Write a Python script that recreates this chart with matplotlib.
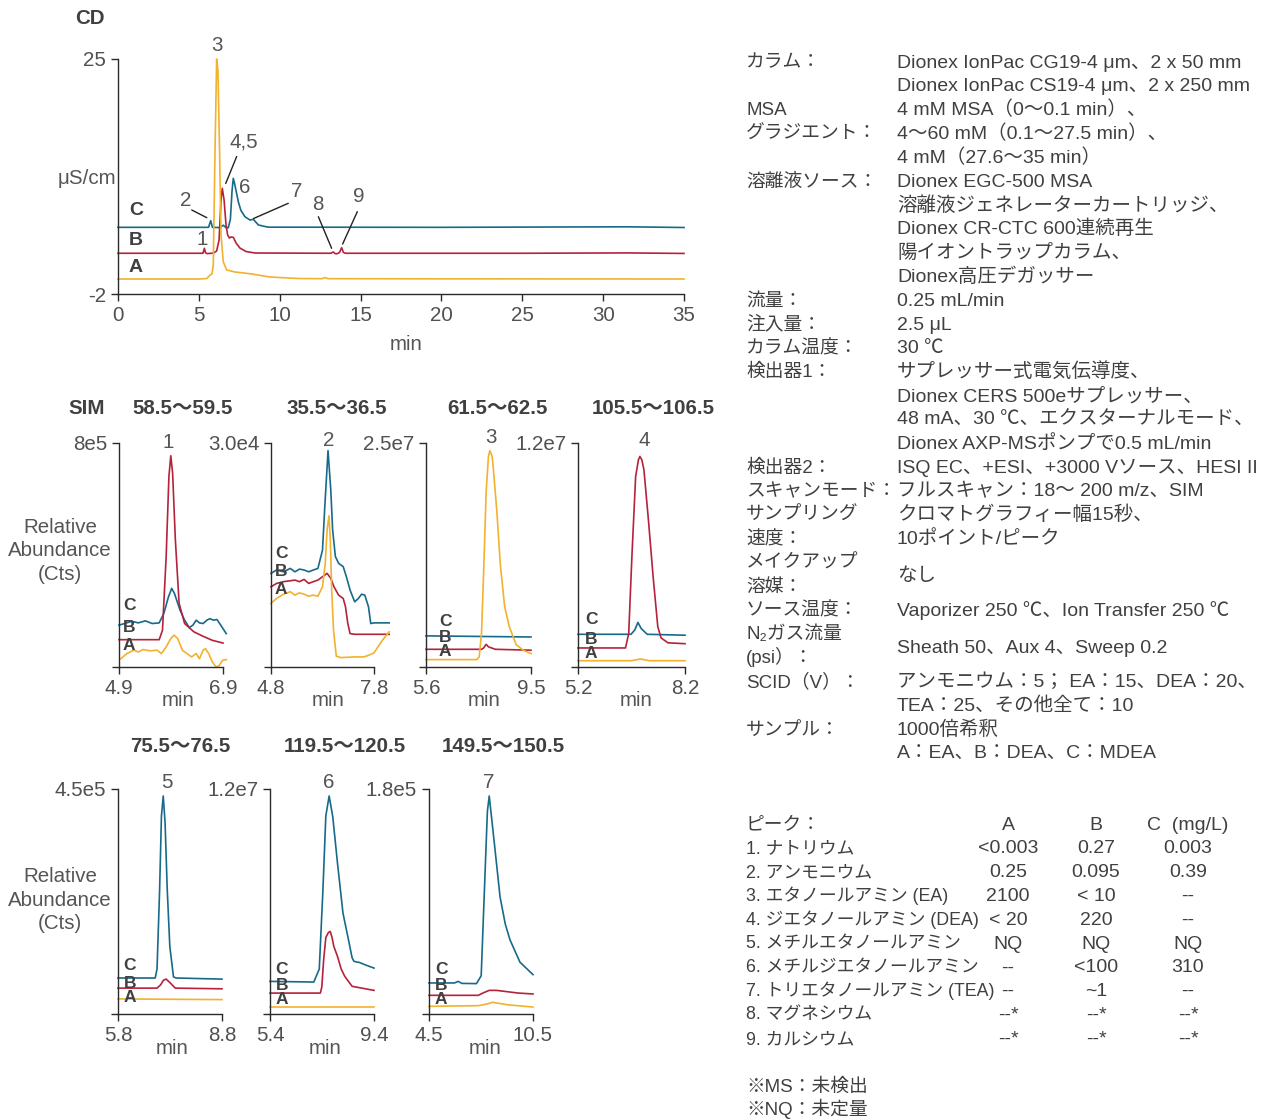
import numpy as np
import matplotlib.pyplot as plt

plt.rcParams['font.family'] = ['Liberation Sans', 'Noto Sans CJK JP', 'DejaVu Sans']
plt.rcParams['axes.unicode_minus'] = False

W, H = 1269, 1120
COL_A = '#f2b12e'
COL_B = '#b5223b'
COL_C = '#176a8a'
TXT = '#404040'
TICK = '#505050'
FS = 14.8      # axis text
FS_INFO = 14   # conditions block

# ---- CD chromatogram: time (min) and conductivity (uS/cm) ----
cd_a_t = [0, 5.0, 5.50, 5.69, 5.81, 5.89, 6.00, 6.10, 6.18, 6.28, 6.37, 6.51, 6.72, 7.23,
          8.27, 9.40, 11.2, 12.6, 12.8, 13.0, 20.0, 30.0, 35.0]
cd_a = [-0.28, -0.28, -0.22, 0.18, 0.30, 1.30, 14.5, 25.0, 23.7, 14.5, 4.80, 1.70, 0.76, 0.53,
        0.30, -0.05, -0.22, -0.24, -0.12, -0.24, -0.26, -0.27, -0.28]
cd_b_t = [0, 5.20, 5.26, 5.34, 5.41, 5.50, 5.90, 6.00, 6.10, 6.25, 6.37, 6.45, 6.56, 6.68,
          6.78, 6.89, 6.99, 7.13, 7.30, 7.54, 7.92, 8.47, 13.17, 13.31, 13.42, 13.54, 13.70,
          13.83, 13.94, 14.07, 25.0, 31.5, 35.0]
cd_b = [2.68, 2.68, 2.70, 3.25, 2.75, 2.64, 2.70, 2.82, 2.94, 4.20, 8.80, 10.14, 8.80, 5.93,
        4.78, 4.43, 4.55, 4.51, 3.86, 3.28, 2.88, 2.71, 2.68, 2.83, 2.65, 2.62, 2.77,
        3.32, 2.77, 2.68, 2.68, 2.72, 2.66]
cd_c_t = [0, 5.60, 5.73, 5.84, 6.30, 6.51, 6.70, 6.82, 6.95, 7.05, 7.13, 7.22, 7.33, 7.44,
          7.60, 7.85, 8.16, 8.37, 8.68, 9.28, 20.0, 31.5, 35.0]
cd_c = [5.66, 5.66, 6.42, 5.66, 5.63, 5.90, 5.60, 5.62, 6.60, 9.80, 11.29, 10.6, 9.60, 8.60,
        7.60, 6.88, 6.50, 6.58, 5.93, 5.68, 5.66, 5.72, 5.64]

# ---- SIM traces: (min, fraction of full-scale counts) ----
sim1_c = [(4.900, .187), (5.007, .194), (5.140, .204), (5.273, .197), (5.407, .206), (5.540, .194),
          (5.673, .197), (5.762, .239), (5.851, .313), (5.913, .351), (5.967, .328), (6.073, .254),
          (6.162, .209), (6.251, .176), (6.322, .187), (6.384, .209), (6.447, .197), (6.518, .194),
          (6.589, .209), (6.651, .216), (6.713, .209), (6.784, .212), (6.856, .187), (6.962, .149)]
sim1_b = [(4.900, .122), (5.673, .122), (5.736, .164), (5.807, .493), (5.860, .851), (5.896, .943),
          (5.931, .866), (5.984, .567), (6.056, .284), (6.162, .194), (6.340, .157), (6.518, .137),
          (6.696, .119), (6.900, .107)]
sim1_a = [(4.936, .037), (5.051, .060), (5.184, .075), (5.273, .067), (5.362, .078), (5.496, .072),
          (5.629, .075), (5.718, .060), (5.807, .090), (5.896, .127), (5.958, .142), (6.029, .127),
          (6.118, .075), (6.207, .060), (6.296, .045), (6.384, .060), (6.447, .037), (6.518, .075),
          (6.562, .082), (6.624, .060), (6.696, .022), (6.767, .000), (6.829, .007), (6.891, .030),
          (6.962, .033)]

sim2_c = [(4.800, .418), (4.961, .433), (5.162, .425), (5.362, .440), (5.496, .425), (5.630, .437),
          (5.764, .433), (5.898, .425), (6.032, .433), (6.166, .440), (6.300, .522), (6.367, .716),
          (6.461, .966), (6.541, .791), (6.595, .612), (6.675, .493), (6.769, .463), (6.903, .448),
          (6.996, .403), (7.104, .343), (7.238, .291), (7.345, .306), (7.438, .325), (7.532, .321),
          (7.639, .269), (7.706, .194), (7.800, .197), (8.242, .197)]
sim2_b = [(4.800, .358), (4.961, .373), (5.162, .381), (5.362, .385), (5.496, .388), (5.630, .381),
          (5.764, .391), (5.898, .373), (6.032, .381), (6.166, .388), (6.300, .403), (6.434, .418),
          (6.541, .396), (6.635, .358), (6.769, .321), (6.903, .306), (6.970, .269), (7.037, .194),
          (7.104, .149), (7.238, .146), (7.800, .146), (8.242, .146)]
sim2_a = [(4.800, .284), (4.961, .306), (5.162, .325), (5.362, .336), (5.496, .321), (5.630, .331),
          (5.764, .325), (5.898, .316), (6.032, .321), (6.166, .316), (6.300, .358), (6.380, .463),
          (6.434, .612), (6.488, .675), (6.528, .567), (6.568, .343), (6.621, .164), (6.702, .048),
          (6.836, .042), (7.238, .045), (7.505, .045), (7.639, .052), (7.800, .063), (8.041, .119),
          (8.242, .157)]

sim3_c = [(5.6, .139), (9.5, .134)]
sim3_b = [(5.6, .079), (7.662, .079), (7.740, .085), (7.833, .101), (7.920, .090), (8.177, .079),
          (9.5, .075)]
sim3_a = [(5.6, .033), (7.490, .033), (7.576, .045), (7.662, .150), (7.748, .450), (7.833, .780),
          (7.919, .940), (7.971, .966), (8.057, .940), (8.091, .900), (8.228, .700), (8.366, .450),
          (8.521, .270), (8.693, .180), (8.950, .100), (9.208, .075), (9.5, .060)]

sim4_c = [(5.2, .146), (6.687, .146), (6.790, .165), (6.881, .199), (6.971, .172), (7.140, .146),
          (8.2, .142)]
sim4_b = [(5.2, .085), (6.532, .085), (6.622, .150), (6.713, .500), (6.816, .850), (6.894, .925),
          (6.935, .940), (6.990, .925), (7.049, .880), (7.178, .650), (7.308, .400), (7.437, .180),
          (7.528, .130), (7.722, .108), (8.2, .104)]
sim4_a = [(5.2, .028), (6.700, .028), (6.946, .036), (7.200, .028), (8.2, .028)]

sim5_c = [(5.8, .160), (6.874, .160), (6.926, .200), (7.000, .550), (7.053, .880), (7.105, .969),
          (7.158, .850), (7.221, .550), (7.295, .300), (7.400, .165), (7.474, .160), (8.8, .155)]
sim5_b = [(5.8, .115), (6.926, .115), (7.032, .130), (7.110, .150), (7.189, .155), (7.295, .140),
          (7.453, .115), (8.8, .112)]
sim5_a = [(5.8, .067), (8.8, .064)]

sim6_c = [(5.4, .145), (7.084, .142), (7.295, .200), (7.435, .550), (7.547, .880), (7.674, .969),
          (7.814, .877), (7.996, .670), (8.207, .448), (8.418, .330), (8.558, .250), (8.628, .234),
          (8.839, .229), (9.049, .219), (9.4, .204)]
sim6_b = [(5.4, .093), (7.337, .093), (7.393, .120), (7.463, .240), (7.547, .340), (7.646, .362),
          (7.716, .367), (7.786, .340), (7.856, .300), (7.996, .256), (8.137, .200), (8.277, .167),
          (8.558, .123), (9.4, .105)]
sim6_a = [(5.4, .031), (9.4, .031)]

sim7_c = [(4.5, .138), (5.974, .138), (6.184, .145), (6.395, .136), (7.237, .135), (7.511, .170),
          (7.721, .600), (7.868, .900), (7.974, .969), (8.142, .850), (8.310, .730), (8.600, .520),
          (8.900, .400), (9.170, .330), (9.750, .230), (10.5, .175)]
sim7_b = [(4.5, .083), (7.342, .083), (7.658, .095), (7.974, .105), (8.395, .105), (9.658, .093),
          (10.5, .089)]
sim7_a = [(4.5, .034), (7.342, .037), (7.868, .045), (8.184, .052), (9.026, .041), (10.5, .031)]

sim_mz = ['58.5～59.5', '35.5～36.5', '61.5～62.5', '105.5～106.5',
          '75.5～76.5', '119.5～120.5', '149.5～150.5']
sim_full = [8e5, 3.0e4, 2.5e7, 1.2e7, 4.5e5, 1.2e7, 1.8e5]
sim_full_lbl = ['8e5', '3.0e4', '2.5e7', '1.2e7', '4.5e5', '1.2e7', '1.8e5']
sim_range = [(4.9, 6.9), (4.8, 7.8), (5.6, 9.5), (5.2, 8.2), (5.8, 8.8), (5.4, 9.4), (4.5, 10.5)]
sim_peak = ['1', '2', '3', '4', '5', '6', '7']

# ---- conditions text ----
cond_rows = [
    ('カラム：', 'Dionex IonPac CG19-4 μm、2 x 50 mm'),
    ('', 'Dionex IonPac CS19-4 μm、2 x 250 mm'),
    ('MSA', '4 mM MSA（0～0.1 min）、'),
    ('グラジエント：', '4～60 mM（0.1～27.5 min）、'),
    ('', '4 mM（27.6～35 min）'),
    ('溶離液ソース：', 'Dionex EGC-500 MSA'),
    ('', '溶離液ジェネレーターカートリッジ、'),
    ('', 'Dionex CR-CTC 600連続再生'),
    ('', '陽イオントラップカラム、'),
    ('', 'Dionex高圧デガッサー'),
    ('流量：', '0.25 mL/min'),
    ('注入量：', '2.5 μL'),
    ('カラム温度：', '30 ℃'),
    ('検出器1：', 'サプレッサー式電気伝導度、'),
    ('', 'Dionex CERS 500eサプレッサー、'),
    ('', '48 mA、30 ℃、エクスターナルモード、'),
    ('', 'Dionex AXP-MSポンプで0.5 mL/min'),
    ('検出器2：', 'ISQ EC、+ESI、+3000 Vソース、HESI II'),
    ('スキャンモード：', 'フルスキャン：18～ 200 m/z、SIM'),
    ('サンプリング', 'クロマトグラフィー幅15秒、'),
    ('速度：', '10ポイント/ピーク'),
    ('メイクアップ', None),
    ('溶媒：', None),
    ('ソース温度：', 'Vaporizer 250 ℃、Ion Transfer 250 ℃'),
    ('N₂ガス流量', None),
    ('(psi）：', None),
    ('SCID（V）：', 'アンモニウム：5； EA：15、DEA：20、'),
    ('', 'TEA：25、その他全て：10'),
    ('サンプル：', '1000倍希釈'),
    ('', 'A：EA、B：DEA、C：MDEA'),
]
# values that sit between two label lines
cond_between = [(21, 'なし'), (24, 'Sheath 50、Aux 4、Sweep 0.2')]

peak_names = ['1. ナトリウム', '2. アンモニウム', '3. エタノールアミン (EA)',
              '4. ジエタノールアミン (DEA)', '5. メチルエタノールアミン',
              '6. メチルジエタノールアミン', '7. トリエタノールアミン (TEA)',
              '8. マグネシウム', '9. カルシウム']
conc_a = ['<0.003', '0.25', '2100', '< 20', 'NQ', '--', '--', '--*', '--*']
conc_b = ['0.27', '0.095', '< 10', '220', 'NQ', '<100', '~1', '--*', '--*']
conc_c = ['0.003', '0.39', '--', '--', 'NQ', '310', '--', '--*', '--*']
notes = ['※MS：未検出', '※NQ：未定量']

fig = plt.figure(figsize=(W / 100, H / 100), dpi=100)


def ftext(x, y, s, **kw):
    kw.setdefault('color', TXT)
    kw.setdefault('fontsize', FS)
    kw.setdefault('va', 'center')
    fig.text(x / W, 1 - y / H, s, **kw)


def info(x, y, s, **kw):
    # right-hand block, placed on the baseline so kana and latin lines align
    kw.setdefault('fontsize', FS_INFO)
    ftext(x, y + 6.5, s, va='baseline', **kw)


def add_ax(l, t, r, b):
    ax = fig.add_axes([l / W, 1 - b / H, (r - l) / W, (b - t) / H])
    ax.patch.set_visible(False)
    for s in ('top', 'right'):
        ax.spines[s].set_visible(False)
    for s in ('left', 'bottom'):
        ax.spines[s].set_color('#2a2a2a')
        ax.spines[s].set_linewidth(1.0)
    ax.tick_params(direction='out', length=5, width=1.0, color='#2a2a2a',
                   labelcolor=TICK, labelsize=FS, pad=3.5)
    return ax


# ---- CD panel ----
ax = add_ax(118, 59, 684, 294)
ax.set_xlim(0, 35)
ax.set_ylim(-2, 25)
ax.set_xticks(range(0, 36, 5))
ax.set_yticks([-2, 25])
for t, v, c in ((cd_c_t, cd_c, COL_C), (cd_b_t, cd_b, COL_B), (cd_a_t, cd_a, COL_A)):
    ax.plot(t, v, color=c, lw=1.2, clip_on=False, solid_joinstyle='round')
for lab, v in (('C', 7.6), ('B', 4.1), ('A', 1.0)):
    ax.text(1.1, v, lab, fontsize=14, fontweight='bold', color=TXT, ha='center', va='center')

ann_kw = dict(fontsize=FS, color='#555555', ha='center', va='center')
line_kw = dict(arrowstyle='-', color='#222222', lw=1.0, shrinkA=0, shrinkB=0)
ax.text(6.10, 26.6, '3', **ann_kw)
ax.text(5.18, 4.3, '1', **ann_kw)
ax.text(7.85, 10.2, '6', **ann_kw)
for lab, tx, ty, lx, ly, px_, py_ in (('4,5', 7.75, 15.5, 7.34, 13.8, 6.66, 10.7),
                                      ('2', 4.20, 8.7, 4.56, 7.65, 5.49, 6.77),
                                      ('7', 11.05, 9.75, 10.53, 8.42, 8.38, 6.67),
                                      ('8', 12.35, 8.34, 12.39, 6.88, 13.21, 3.25),
                                      ('9', 14.86, 9.18, 14.80, 7.46, 13.89, 3.74)):
    ax.text(tx, ty, lab, **ann_kw)
    ax.annotate('', xy=(px_, py_), xytext=(lx, ly), arrowprops=line_kw)

ftext(90, 18, 'CD', fontweight='bold', ha='center')
ftext(87, 178, 'μS/cm', ha='center', color='#555555')
ftext(406, 344, 'min', ha='center', color='#555555')

# ---- SIM panels ----
traces = [(sim1_a, sim1_b, sim1_c), (sim2_a, sim2_b, sim2_c), (sim3_a, sim3_b, sim3_c),
          (sim4_a, sim4_b, sim4_c), (sim5_a, sim5_b, sim5_c), (sim6_a, sim6_b, sim6_c),
          (sim7_a, sim7_b, sim7_c)]
boxes = [(119, 443, 223, 667), (271, 443, 374, 667), (426, 443, 531, 667), (578, 443, 685, 667),
         (118, 789, 222, 1014), (270, 789, 374, 1014), (429, 789, 533, 1014)]
title_x = [183, 337, 497, 653, 180, 345, 503]
min_x = [178, 328, 484, 636, 172, 325, 485]
peak_xy = [(168, 443), (329, 441), (491, 438), (644, 441), (167, 783), (329, 783), (489, 783)]
abc_xy = [(129, (605, 627, 646)), (281, (553, 572, 590)), (445, (622, 638, 652)),
          (591, (620, 640, 653)), (130, (966, 983, 998)), (282, (969, 985, 1000)),
          (441, (969, 985, 1000))]

for i in range(7):
    l, t, r, b = boxes[i]
    ax = add_ax(l, t, r, b)
    lo, hi = sim_range[i]
    full = sim_full[i]
    ax.set_xlim(lo, hi)
    ax.set_ylim(0, full)
    ax.set_xticks([lo, hi])
    ax.set_xticklabels([f'{lo:.1f}', f'{hi:.1f}'])
    ax.set_yticks([0, full])
    ax.set_yticklabels(['', sim_full_lbl[i]])
    tr_a, tr_b, tr_c = traces[i]
    for tr, c in ((tr_c, COL_C), (tr_b, COL_B), (tr_a, COL_A)):
        arr = np.array(tr)
        ax.plot(arr[:, 0], arr[:, 1] * full, color=c, lw=1.2, clip_on=False)
    ty = 408 if i < 4 else 747
    ftext(title_x[i], ty, sim_mz[i], fontweight='bold', ha='center')
    ftext(min_x[i], 701 if i < 4 else 1049, 'min', ha='center', color='#555555')
    ftext(peak_xy[i][0], peak_xy[i][1], sim_peak[i], ha='center', color='#555555')
    ax_x, ys = abc_xy[i]
    for lab, yy in zip('CBA', ys):
        ftext(ax_x, yy, lab, ha='center', fontweight='bold', fontsize=12.5)

ftext(87, 408, 'SIM', fontweight='bold', ha='center')
for yy in (551, 900):
    ftext(60, yy, 'Relative\nAbundance\n(Cts)', ha='center', color='#555555',
          linespacing=1.32)

# ---- conditions and results text ----
y0, dy = 61, 23.83
for k, (lab, val) in enumerate(cond_rows):
    y = y0 + k * dy
    if lab:
        info(746, y, lab, fontsize=13.5)
    if val:
        info(897, y, val)
for k, val in cond_between:
    info(897, y0 + (k + 0.55) * dy, val)

ty0 = 823
info(746, ty0, 'ピーク：', fontsize=13.5)
info(1008, ty0, 'A', ha='center')
info(1096, ty0, 'B', ha='center')
info(1188, ty0, 'C  (mg/L)', ha='center')
for k in range(len(peak_names)):
    y = ty0 + (k + 1) * dy
    info(746, y, peak_names[k], fontsize=12.8)
    info(1008, y, conc_a[k], ha='center')
    info(1096, y, conc_b[k], ha='center')
    info(1188, y, conc_c[k], ha='center')
for k, s in enumerate(notes):
    info(746, 1085 + k * dy, s, fontsize=13.5)

fig.savefig('out.png', dpi=100)
